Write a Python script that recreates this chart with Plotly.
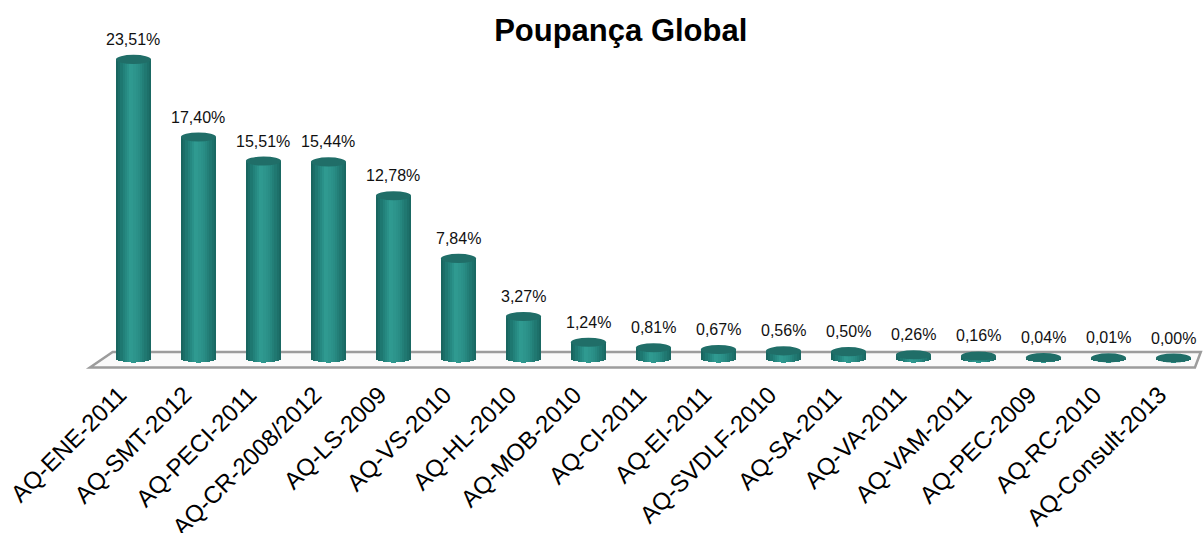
import numpy as np
import plotly.graph_objects as go

categories = ["AQ-ENE-2011", "AQ-SMT-2012", "AQ-PECI-2011", "AQ-CR-2008/2012", "AQ-LS-2009",
              "AQ-VS-2010", "AQ-HL-2010", "AQ-MOB-2010", "AQ-CI-2011", "AQ-EI-2011",
              "AQ-SVDLF-2010", "AQ-SA-2011", "AQ-VA-2011", "AQ-VAM-2011", "AQ-PEC-2009",
              "AQ-RC-2010", "AQ-Consult-2013"]
values = [23.51, 17.40, 15.51, 15.44, 12.78, 7.84, 3.27, 1.24, 0.81, 0.67, 0.56, 0.50,
          0.26, 0.16, 0.04, 0.01, 0.00]
title_text = "Poupança Global"

pos = list(range(len(categories)))
W = 0.54          # cylinder width (data units)
H = 0.36          # ellipse half-height (data units)
N = 16            # gradient strips

def body_color(t):
    # t in [-1, 1] across cylinder
    stops = [(-1.0, (22, 96, 91)), (-0.55, (34, 130, 123)), (-0.15, (48, 156, 146)),
             (0.35, (40, 140, 132)), (1.0, (25, 101, 95))]
    for (t0, c0), (t1, c1) in zip(stops[:-1], stops[1:]):
        if t0 <= t <= t1:
            f = (t - t0) / (t1 - t0)
            c = [round(a + (b - a) * f) for a, b in zip(c0, c1)]
            return f"rgb({c[0]},{c[1]},{c[2]})"
    return "rgb(25,101,95)"

fig = go.Figure()
sw = W / N
for k in range(N):
    tl = -1 + 2 * k / N
    tc = tl + 1 / N
    base = -H * np.sqrt(max(0.0, 1 - tc ** 2))
    fig.add_trace(go.Bar(
        x=pos, y=[v - base for v in values], base=base,
        offset=tl * W / 2, width=sw * 1.08,
        marker=dict(color=body_color(tc), line=dict(width=0)),
        hoverinfo="skip", showlegend=False))

shapes = []
# floor
fx = [-0.67, -0.32, 16.42, 16.33]
fy = [-0.75, 0.47, 0.47, -0.75]
shapes.append(dict(type="path", xref="x", yref="y", layer="below",
                   path=f"M {fx[0]} {fy[0]} L {fx[1]} {fy[1]} L {fx[2]} {fy[2]} L {fx[3]} {fy[3]} Z",
                   fillcolor="#fafafa", line=dict(color="#9c9c9c", width=2.5)))
for i, v in zip(pos, values):
    shapes.append(dict(type="circle", xref="x", yref="y", layer="above",
                       x0=i - W / 2, x1=i + W / 2, y0=v - H, y1=v + H,
                       fillcolor="#206e68", line=dict(width=0)))

annotations = []
for i, v in zip(pos, values):
    annotations.append(dict(x=i, y=v, xref="x", yref="y", yshift=20, showarrow=False,
                            text=f"{v:.2f}".replace(".", ",") + "%",
                            font=dict(family="Liberation Sans, Arial", size=16, color="#111111"),
                            yanchor="middle"))

fig.update_layout(
    width=1203, height=533,
    margin=dict(l=40, r=0, t=40, b=153, autoexpand=False),
    paper_bgcolor="white", plot_bgcolor="white",
    barmode="overlay", bargap=0,
    shapes=shapes, annotations=annotations,
    title=dict(text=f"<b>{title_text}</b>", x=0.516, xanchor="center", y=1 - 30 / 533,
               yanchor="middle", yref="container",
               font=dict(family="Liberation Sans, Arial", size=31, color="#000000")),
    xaxis=dict(range=[-1.438, 16.454], tickmode="array", tickvals=pos, ticktext=categories,
               tickangle=-45, showgrid=False, zeroline=False, showline=False, ticks="",
               automargin=False, ticklabelshift=-14, ticklabelstandoff=-5,
               tickfont=dict(family="Liberation Sans, Arial", size=24, color="#000000")),
    yaxis=dict(range=[-1.732, 25.04], visible=False, showgrid=False, zeroline=False,
               automargin=False),
)

fig.write_html("out.html", config={"displayModeBar": False},
               post_script="document.body.style.margin='0';")
